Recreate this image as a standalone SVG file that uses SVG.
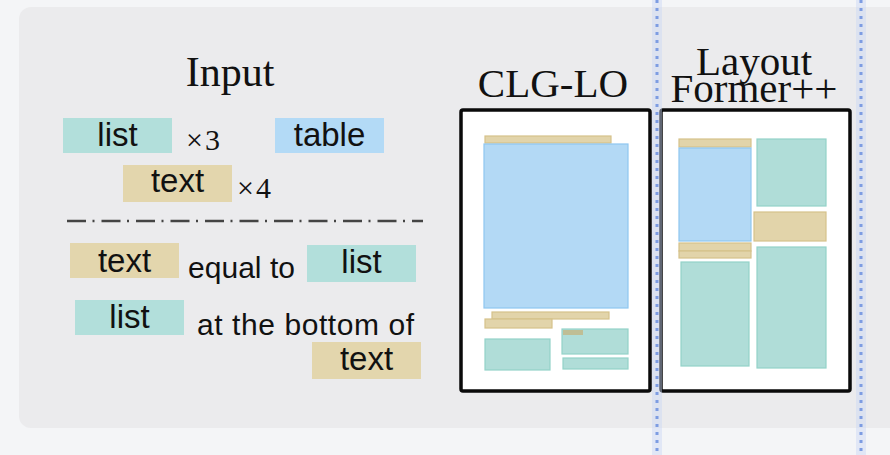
<svg xmlns="http://www.w3.org/2000/svg" width="890" height="455" viewBox="0 0 890 455">
  <defs>
    <style>
      .serif { font-family: "Liberation Serif", "Times New Roman", serif; fill: #111; }
      .sans { font-family: "Liberation Sans", Arial, sans-serif; fill: #111; }
      .lbl { font-size: 33px; text-anchor: middle; }
      .note { font-size: 30px; }
      .mult { font-size: 30px; letter-spacing: 2px; }
      .teal { fill: #b2dfdb; }
      .blue { fill: #b3daf6; }
      .tan { fill: #e3d6ad; }
      .frame { fill: #ffffff; stroke: #0a0a0a; stroke-width: 3.5; }
      .pteal { fill: #b0ddd8; stroke: #93d2c9; stroke-width: 1.2; }
      .pblue { fill: #b3d9f5; stroke: #8ec6f0; stroke-width: 1.2; }
      .ptan { fill: #e2d4aa; stroke: #d6c28a; stroke-width: 1.2; }
      .dots { stroke: #7d9ce2; stroke-width: 3; stroke-dasharray: 3 5; fill: none; }
      .glow { stroke: #c9d8f5; stroke-width: 10; opacity: 0.45; fill: none; }
    </style>
  </defs>

  <!-- page and panel background -->
  <rect x="0" y="0" width="890" height="455" fill="#f4f5f7"/>
  <rect x="19" y="7" width="900" height="421" rx="12" fill="#ebebed"/>

  <!-- input constraints -->
  <g id="input-title">
    <text class="serif" x="230" y="86" font-size="42" text-anchor="middle">Input</text>
  </g>
  <g id="list-count">
    <rect class="teal" x="63" y="118" width="109" height="35"/>
    <text class="sans lbl" x="117.5" y="146">list</text>
    <text class="serif mult" x="186" y="150">×3</text>
  </g>
  <g id="table-item">
    <rect class="blue" x="275" y="118" width="109" height="35"/>
    <text class="sans lbl" x="329.5" y="146">table</text>
  </g>
  <g id="text-count">
    <rect class="tan" x="123" y="165" width="109" height="37"/>
    <text class="sans lbl" x="177.5" y="192">text</text>
    <text class="serif mult" x="237" y="198">×4</text>
  </g>
  <g id="separator">
    <line x1="67" y1="221" x2="423" y2="221" stroke="#444" stroke-width="2.5" stroke-dasharray="19 6.5 2 7"/>
  </g>
  <g id="constraint-equal">
    <rect class="tan" x="70" y="243" width="109" height="35"/>
    <text class="sans lbl" x="124.5" y="272">text</text>
    <text class="sans note" x="188" y="278" textLength="107" lengthAdjust="spacing">equal to</text>
    <rect class="teal" x="307" y="245" width="109" height="37"/>
    <text class="sans lbl" x="361.5" y="273">list</text>
  </g>
  <g id="constraint-bottom">
    <rect class="teal" x="75" y="300" width="109" height="35"/>
    <text class="sans lbl" x="129.5" y="328">list</text>
    <text class="sans note" x="197" y="335" textLength="217" lengthAdjust="spacing">at the bottom of</text>
    <rect class="tan" x="312" y="342" width="109" height="37"/>
    <text class="sans lbl" x="366.5" y="370">text</text>
  </g>

  <!-- CLG-LO result -->
  <g id="clg-lo">
    <text class="serif" x="553" y="97" font-size="41" text-anchor="middle">CLG-LO</text>
    <rect class="frame" x="461" y="110" width="189" height="281" rx="2"/>
    <rect class="ptan" x="485" y="136" width="126" height="7"/>
    <rect class="pblue" x="484" y="144" width="144" height="164"/>
    <rect class="ptan" x="492" y="312" width="117" height="7"/>
    <rect class="ptan" x="485" y="319" width="67" height="9"/>
    <rect class="pteal" x="485" y="339" width="65" height="31"/>
    <rect class="pteal" x="562" y="329" width="66" height="25"/>
    <rect x="563" y="330" width="20" height="5" fill="#c2b98a" opacity="0.85"/>
    <rect class="pteal" x="563" y="358" width="65" height="11"/>
  </g>

  <!-- LayoutFormer++ result -->
  <g id="layoutformer">
    <text class="serif" x="754" y="75" font-size="41" text-anchor="middle">Layout</text>
    <text class="serif" x="754" y="102" font-size="41" text-anchor="middle">Former++</text>
    <rect class="frame" x="661" y="110" width="189" height="281" rx="2"/>
    <rect class="ptan" x="679" y="139" width="72" height="8"/>
    <rect class="pblue" x="679" y="148" width="72" height="93"/>
    <rect class="pteal" x="757" y="139" width="69" height="67"/>
    <rect class="ptan" x="754" y="212" width="72" height="29"/>
    <rect class="ptan" x="679" y="243" width="72" height="8"/>
    <rect class="ptan" x="679" y="251" width="72" height="7"/>
    <rect class="pteal" x="681" y="262" width="68" height="104"/>
    <rect class="pteal" x="757" y="247" width="69" height="121"/>
  </g>

  <!-- dotted column guides -->
  <g id="guides">
    <line class="glow" x1="657" y1="0" x2="657" y2="455"/>
    <line class="glow" x1="861" y1="0" x2="861" y2="455"/>
    <line class="dots" x1="657" y1="0" x2="657" y2="455"/>
    <line class="dots" x1="861" y1="0" x2="861" y2="455"/>
  </g>
</svg>
